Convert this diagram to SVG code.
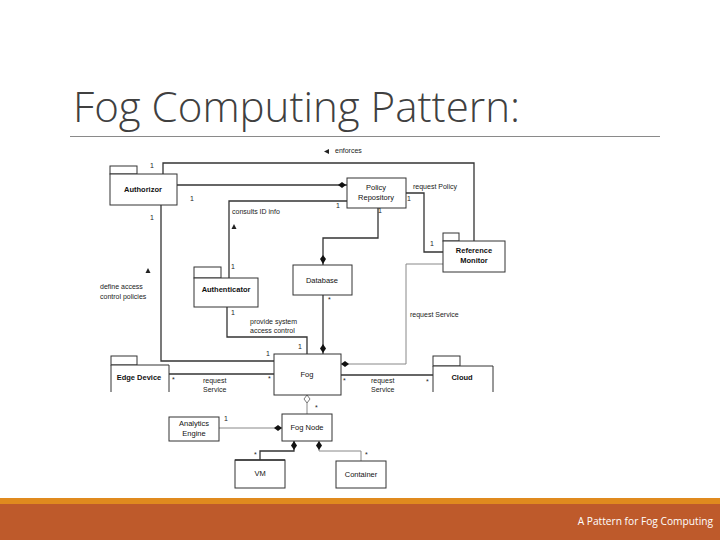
<svg xmlns="http://www.w3.org/2000/svg" width="720" height="540" viewBox="0 0 720 540">
<style>
.box{fill:#fff;stroke:#333;stroke-width:1}
.nt{font-family:"Liberation Sans",Arial,sans-serif;font-size:7.5px;fill:#111;text-anchor:middle}
.b{font-weight:bold}
.lb{font-family:"Liberation Sans",Arial,sans-serif;font-size:7px;fill:#222}
.c{fill:none;stroke:#333;stroke-width:1.3}
.cl{fill:none;stroke:#888;stroke-width:1}
.d{fill:#111}
</style>
<rect width="720" height="540" fill="#fff"/>
<text x="73" y="122" font-family="'Open Sans','Noto Sans',sans-serif" font-weight="300" font-size="42" fill="#404040" textLength="447" lengthAdjust="spacingAndGlyphs">Fog Computing Pattern:</text>
<line x1="70" y1="136.5" x2="660" y2="136.5" stroke="#8a8a8a" stroke-width="1"/>

<g id="connectors">
<path class="c" d="M163,174 V163 H474 V241"/>
<path class="c" d="M177,185 H347"/>
<polygon class="d" points="338,185 342,182 346,185 342,188"/>
<path class="c" d="M347,201 H229 V278"/>
<path class="c" d="M161,205 V361 H274"/>
<path class="c" d="M406,193 H424 V252 H443"/>
<path class="c" stroke="#555" d="M378,208 V238 H323 V265"/>
<polygon class="d" points="323,255 326,259 323,264 320,259"/>
<path class="cl" d="M443,264 H406 V364 H341"/>
<polygon class="d" points="341,364 345,361 349,364 345,367"/>
<path class="c" stroke="#111" d="M323,295 V354"/>
<polygon class="d" points="323,344 326,348.5 323,353 320,348.5"/>
<path class="c" d="M227,307 V337 H307 V354"/>
<path class="c" stroke="#444" d="M169,374 H274"/>
<path class="c" stroke="#444" d="M341,375 H433"/>
<path class="cl" d="M307,403 V414"/>
<polygon points="307,395 310,399 307,403 304,399" fill="#fff" stroke="#555" stroke-width="0.8"/>
<path class="cl" d="M219,428 H282"/>
<polygon class="d" points="274,428 278,425 282,428 278,431"/>
<path class="c" d="M294,441 V451 H260 V460"/>
<polygon class="d" points="294,441 297,445.5 294,450 291,445.5"/>
<path class="cl" d="M319,441 V451 H361 V461"/>
<polygon class="d" points="319,441 322,445.5 319,450 316,445.5"/>
</g>

<g id="labels">
<text class="lb" x="150" y="168">1</text>
<polygon points="324,151.5 329,149 329,154" fill="#222"/>
<text class="lb" x="335" y="153">enforces</text>
<text class="lb" x="190" y="201">1</text>
<text class="lb" x="150" y="220">1</text>
<text class="lb" x="232" y="214">consults ID info</text>
<polygon points="234,224 236.5,229 231.5,229" fill="#222"/>
<text class="lb" x="231" y="269">1</text>
<text class="lb" x="336" y="208">1</text>
<text class="lb" x="378" y="213">1</text>
<text class="lb" x="413" y="189">request Policy</text>
<text class="lb" x="407" y="201">1</text>
<text class="lb" x="430" y="246">1</text>
<text class="lb" x="410" y="317">request Service</text>
<text class="lb" x="328" y="302">*</text>
<text class="lb" x="231" y="315">1</text>
<text class="lb" x="250" y="324">provide system</text>
<text class="lb" x="250" y="333">access control</text>
<text class="lb" x="266" y="356">1</text>
<text class="lb" x="298" y="349">1</text>
<text class="lb" x="172" y="382">*</text>
<text class="lb" x="203" y="383">request</text>
<text class="lb" x="203" y="392">Service</text>
<text class="lb" x="268" y="381">*</text>
<text class="lb" x="343" y="383">*</text>
<text class="lb" x="371" y="383">request</text>
<text class="lb" x="371" y="392">Service</text>
<text class="lb" x="426" y="384">*</text>
<text class="lb" x="315" y="410">*</text>
<text class="lb" x="224" y="421">1</text>
<text class="lb" x="254" y="457">*</text>
<text class="lb" x="365" y="457">*</text>
<polygon points="148,268 150.5,273 145.5,273" fill="#222"/>
<text class="lb" x="100" y="289">define access</text>
<text class="lb" x="100" y="299">control policies</text>
</g>

<g id="authorizor">
<rect class="box" x="110" y="166" width="27" height="8"/>
<rect class="box" x="110" y="174" width="67" height="31"/>
<text class="nt b" x="143" y="192">Authorizor</text>
</g>
<g id="policy-repository">
<rect class="box" x="347" y="178" width="59" height="30"/>
<text class="nt" x="376" y="190">Policy</text>
<text class="nt" x="376" y="200">Repository</text>
</g>
<g id="reference-monitor">
<rect class="box" x="443" y="233" width="16" height="8"/>
<rect class="box" x="443" y="241" width="62" height="31"/>
<text class="nt b" x="474" y="253">Reference</text>
<text class="nt b" x="474" y="263">Monitor</text>
</g>
<g id="database">
<rect class="box" x="293" y="265" width="59" height="30"/>
<text class="nt" x="322" y="283">Database</text>
</g>
<g id="authenticator">
<rect class="box" x="194" y="267" width="27" height="11"/>
<rect class="box" x="194" y="278" width="64" height="29"/>
<text class="nt b" x="226" y="292">Authenticator</text>
</g>
<g id="fog">
<rect class="box" x="274" y="354" width="67" height="41"/>
<text class="nt" x="307" y="377">Fog</text>
</g>
<g id="edge-device">
<rect class="box" x="111" y="356" width="26" height="9"/>
<path class="box" d="M111,392 V365 H169 V392"/>
<text class="nt b" x="139" y="380">Edge Device</text>
</g>
<g id="cloud">
<rect class="box" x="433" y="356" width="27" height="10"/>
<path class="box" d="M433,392 V366 H493 V392"/>
<text class="nt b" x="462" y="380">Cloud</text>
</g>
<g id="fog-node">
<rect class="box" x="282" y="414" width="50" height="27"/>
<text class="nt" x="307" y="430">Fog Node</text>
</g>
<g id="analytics-engine">
<rect class="box" x="169" y="417" width="50" height="24"/>
<text class="nt" x="194" y="426">Analytics</text>
<text class="nt" x="194" y="436">Engine</text>
</g>
<g id="vm">
<rect class="box" x="235" y="460" width="50" height="28"/>
<line x1="235" y1="460" x2="285" y2="460" stroke="#333" stroke-width="1.6"/>
<text class="nt" x="260" y="476">VM</text>
</g>
<g id="container">
<rect class="box" x="336" y="461" width="50" height="27"/>
<text class="nt" x="361" y="477">Container</text>
</g>

<rect x="0" y="498" width="720" height="6" fill="#E08A1E"/>
<rect x="0" y="504" width="720" height="36" fill="#BE5A2B"/>
<text x="713" y="525" text-anchor="end" font-family="'Open Sans','Noto Sans',sans-serif" font-size="10.2" fill="#fff">A Pattern for Fog Computing</text>
</svg>
